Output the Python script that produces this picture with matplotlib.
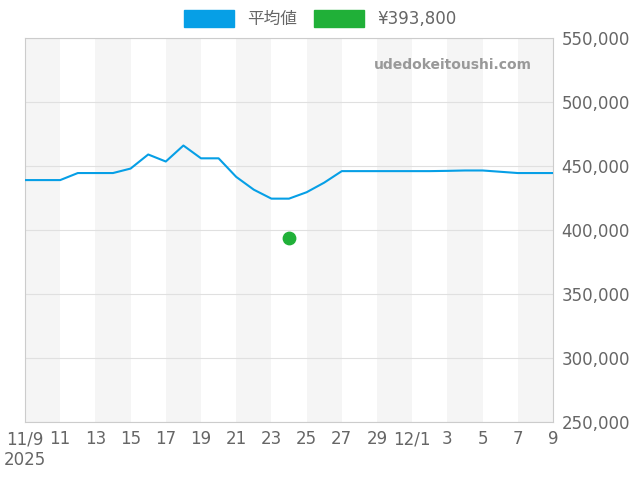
import datetime as dt

import matplotlib
matplotlib.use("Agg")
import matplotlib.pyplot as plt

plt.rcParams["font.family"] = ["DejaVu Sans", "Noto Sans CJK JP"]

start = dt.date(2025, 11, 9)
avg_values = [439000, 439000, 439000, 444500, 444500, 444500, 448000, 459000,
              453500, 466000, 456000, 456000, 441500, 431500, 424500, 424500,
              429500, 437000, 446000, 446000, 446000, 446000, 446000, 446000,
              446200, 446500, 446500, 445500, 444500, 444500, 444500]
point_day = 15
point_value = 393800
tick_labels = ["11/9\n2025", "11", "13", "15", "17", "19", "21", "23", "25", "27",
               "29", "12/1", "3", "5", "7", "9"]

GRAY = "#666666"
fig = plt.figure(figsize=(6.4, 4.8), dpi=100)
ax = fig.add_axes([25 / 640, 1 - 422 / 480, 528 / 640, 384 / 480])

days = list(range(len(avg_values)))
for b in range(0, 30, 4):
    ax.axvspan(b, b + 2, color="#f5f5f5", zorder=0, lw=0)

ax.plot(days, avg_values, color="#069fe6", lw=1.5, zorder=3)
ax.scatter([point_day], [point_value], color="#20b038", s=80, zorder=4)

ax.set_xlim(0, 30)
ax.set_ylim(250000, 550000)
ax.set_xticks(range(0, 31, 2))
ax.set_xticklabels(tick_labels)
ax.set_yticks(range(250000, 550001, 50000))
ax.yaxis.tick_right()
ax.set_yticklabels([f"{v:,}" for v in range(250000, 550001, 50000)])
ax.tick_params(colors=GRAY, labelsize=12, length=0, pad=6)
for lab in ax.get_xticklabels():
    lab.set_color(GRAY)
ax.grid(axis="y", color="#e0e0e0", lw=0.8)
for s in ax.spines.values():
    s.set_color("#cccccc")
ax.text(0.96, 0.93, "udedokeitoushi.com", transform=ax.transAxes, ha="right",
        va="center", color="#999999", fontsize=10, fontweight="bold")

h1 = plt.Rectangle((0, 0), 1, 1, color="#069fe6")
h2 = plt.Rectangle((0, 0), 1, 1, color="#20b038")
fig.legend([h1, h2], ["平均値", "¥393,800"], loc="center", bbox_to_anchor=(0.5, 0.96),
           ncol=2, frameon=False, fontsize=12, labelcolor=GRAY, handlelength=3,
           handleheight=1.2, columnspacing=1)

fig.savefig("out.png")
